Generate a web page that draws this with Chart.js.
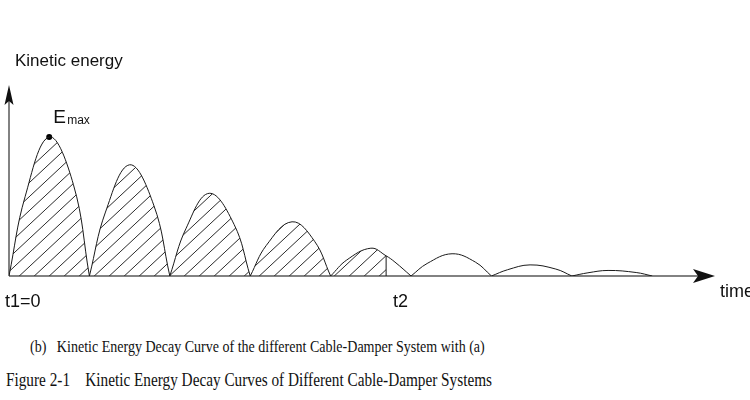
<!DOCTYPE html>
<html>
<head>
<meta charset="utf-8">
<script src="https://cdn.jsdelivr.net/npm/chart.js@4/dist/chart.umd.min.js"></script>
<style>
  html, body { margin: 0; padding: 0; background: #fff; }
  #wrap { position: relative; width: 750px; height: 400px; overflow: hidden; }
  #chart { position: absolute; left: 0; top: 0; }
  .cap { position: absolute; font-family: "Liberation Serif", "Times New Roman", serif; color: #111; white-space: pre; transform-origin: 0 0; transform: scaleX(0.825); }
  #capB { left: 30px; top: 337px; font-size: 17px; }
  #capFig { left: 6px; top: 370px; font-size: 18.5px; }
</style>
</head>
<body>
<div id="wrap">
  <canvas id="chart" width="750" height="310"></canvas>
  <div class="cap" id="capB">(b)   Kinetic Energy Decay Curve of the different Cable-Damper System with (a)</div>
  <div class="cap" id="capFig">Figure 2-1    Kinetic Energy Decay Curves of Different Cable-Damper Systems</div>
</div>
<script>
// tiempos donde la energía vuelve a cero (inicio/fin de cada lóbulo)
const zeroTimes = [0, 1, 2, 3, 4, 5, 6, 7, 8];
// subida, pico y bajada de cada lóbulo
const riseTimes = [0.2, 1.2, 2.2, 3.2, 4.2, 5.2, 6.2, 7.2];
const riseEnergy = [0.57, 0.46, 0.34, 0.22, 0.115, 0.09, 0.045, 0.023];
const peakTimes = [0.5, 1.5, 2.49, 3.52, 4.5, 5.51, 6.48, 7.45];
const peakEnergy = [1, 0.8, 0.595, 0.39, 0.2, 0.16, 0.08, 0.04];
const fallTimes = [0.8, 1.8, 2.8, 3.8, 4.8, 5.8, 6.8, 7.8];
const fallEnergy = [0.66, 0.51, 0.37, 0.25, 0.1, 0.1, 0.05, 0.025];
// instante t2 y energía en ese instante
const t2 = 4.69;
const energyAtT2 = 0.145;
const tickLabels = ['t1=0', 't2'];
const yLabel = 'Kinetic energy';
const xLabel = 'time';

// puntos de la curva, con un hueco (null) entre lóbulos para que cada uno sea independiente
const curvePoints = [];
peakTimes.forEach((pt, i) => {
    curvePoints.push({x: zeroTimes[i], y: 0});
    curvePoints.push({x: riseTimes[i], y: riseEnergy[i]});
    curvePoints.push({x: pt, y: peakEnergy[i]});
    if (pt < t2 && t2 < fallTimes[i]) {
        curvePoints.push({x: t2, y: energyAtT2});
    }
    curvePoints.push({x: fallTimes[i], y: fallEnergy[i]});
    curvePoints.push({x: zeroTimes[i + 1], y: 0});
    if (i < peakTimes.length - 1) {
        curvePoints.push({x: zeroTimes[i + 1], y: null});
    }
});

// patrón de rayado diagonal
const makeHatch = () => {
    const w = 15, h = 14;
    const c = document.createElement('canvas');
    c.width = w;
    c.height = h;
    const g = c.getContext('2d');
    g.strokeStyle = '#2a2a2a';
    g.lineWidth = 1;
    [-w, 0, w].forEach(off => {
        g.beginPath();
        g.moveTo(off, h);
        g.lineTo(off + w, 0);
        g.stroke();
    });
    return g.createPattern(c, 'repeat');
};
const hatch = makeHatch();

// ejes con flechas y textos
const annotate = {
    id: 'annotate',
    beforeDatasetsDraw(chart) {
        const {ctx, scales: {x, y}} = chart;
        const x0 = x.getPixelForValue(0);
        const y0 = y.getPixelForValue(0);
        ctx.save();
        ctx.strokeStyle = '#5a5a5a';
        ctx.lineWidth = 1.5;
        ctx.beginPath();
        ctx.moveTo(x0, y0);
        ctx.lineTo(x.right - 10, y0);
        ctx.moveTo(x0, y0);
        ctx.lineTo(x0, y.top + 10);
        ctx.stroke();
        ctx.restore();
    },
    afterDatasetsDraw(chart) {
        const {ctx, scales: {x, y}} = chart;
        const x0 = x.getPixelForValue(0);
        const y0 = y.getPixelForValue(0);
        ctx.save();
        ctx.fillStyle = '#111';
        // flecha eje x
        ctx.beginPath();
        ctx.moveTo(x.right, y0);
        ctx.lineTo(x.right - 22, y0 - 7);
        ctx.lineTo(x.right - 17, y0);
        ctx.lineTo(x.right - 22, y0 + 7);
        ctx.closePath();
        ctx.fill();
        // flecha eje y
        ctx.beginPath();
        ctx.moveTo(x0, y.top);
        ctx.lineTo(x0 - 4.5, y.top + 20);
        ctx.lineTo(x0, y.top + 16);
        ctx.lineTo(x0 + 4.5, y.top + 20);
        ctx.closePath();
        ctx.fill();

        ctx.textBaseline = 'alphabetic';
        ctx.textAlign = 'left';
        ctx.font = '17px "Liberation Sans", Arial, sans-serif';
        ctx.fillText(yLabel, x0 + 6, y.top - 19);

        ctx.font = '18px "Liberation Sans", Arial, sans-serif';
        ctx.fillText(tickLabels[0], x0 - 4, y0 + 31);
        ctx.fillText(tickLabels[1], x.getPixelForValue(t2) + 7, y0 + 31);
        ctx.fillText(xLabel, x.right + 5, y0 + 21);

        // etiqueta Emax
        const px = x.getPixelForValue(peakTimes[0]);
        const py = y.getPixelForValue(peakEnergy[0]);
        ctx.font = '19px "Liberation Sans", Arial, sans-serif';
        ctx.fillText('E', px + 4, py - 14);
        ctx.font = '12px "Liberation Sans", Arial, sans-serif';
        ctx.fillText('max', px + 18, py - 13);
        ctx.restore();
    }
};

new Chart(document.getElementById('chart'), {
    type: 'line',
    data: {
        datasets: [
            {
                data: curvePoints,
                borderColor: '#1a1a1a',
                borderWidth: 1,
                tension: 0.4,
                pointRadius: 0,
                spanGaps: false,
                fill: 'origin',
                backgroundColor: hatch,
                segment: {
                    backgroundColor: c => c.p0.parsed.x < t2 ? hatch : 'rgba(0,0,0,0)'
                }
            },
            {
                data: [{x: t2, y: 0}, {x: t2, y: energyAtT2}],
                borderColor: '#1a1a1a',
                borderWidth: 1,
                pointRadius: 0,
                fill: false
            },
            {
                data: [{x: peakTimes[0], y: peakEnergy[0]}],
                showLine: false,
                pointRadius: 3,
                pointBackgroundColor: '#000',
                pointBorderWidth: 0,
                fill: false
            }
        ]
    },
    options: {
        responsive: false,
        devicePixelRatio: 1,
        animation: false,
        layout: {padding: {left: 9, right: 35, top: 85, bottom: 34}},
        scales: {
            x: {type: 'linear', min: 0, max: 8.78, display: false},
            y: {min: 0, max: 1.374, display: false}
        },
        plugins: {
            legend: {display: false},
            tooltip: {enabled: false}
        }
    },
    plugins: [annotate]
});
</script>
</body>
</html>
